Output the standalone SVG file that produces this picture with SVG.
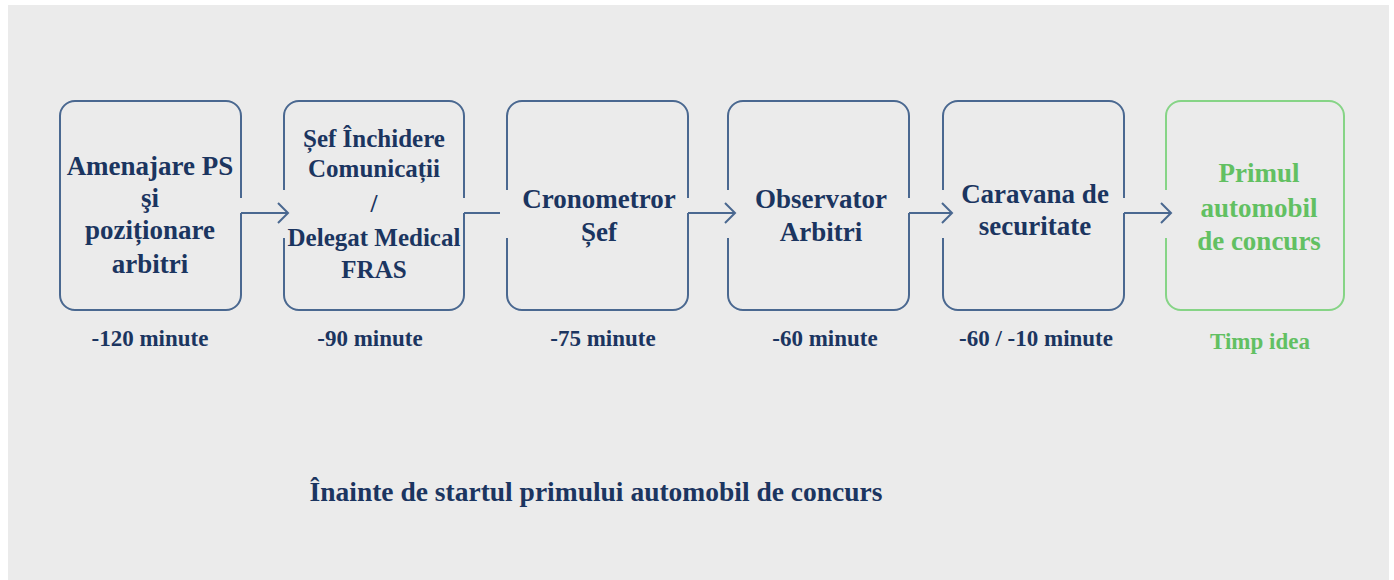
<svg xmlns="http://www.w3.org/2000/svg" width="1394" height="580" viewBox="0 0 1394 580">
<style>
.box{fill:none;stroke:#4a6890;stroke-width:2}
.gbox{fill:none;stroke:#86d486;stroke-width:2}
.t{font-family:'Liberation Serif','DejaVu Serif',serif;font-weight:700;fill:#1b3560;text-anchor:middle}
.g{fill:#62c062}
.big{font-size:27px}
.mid{font-size:25px}
.lab{font-size:23px}
.con{fill:none;stroke:#4a6890;stroke-width:2}
</style>
<defs>
<marker id="chev" markerUnits="userSpaceOnUse" viewBox="0 0 13 23" markerWidth="13" markerHeight="23" refX="11.5" refY="11.5" orient="auto">
<path d="M1.5,1.5 L11.5,11.5 L1.5,21.5" fill="none" stroke="#4a6890" stroke-width="2"/>
</marker>
</defs>
<rect x="8" y="5" width="1381" height="575" fill="#ebebeb"/>

<g id="node1">
<path class="box" d="M241 213 V295 A15 15 0 0 1 226 310 H75 A15 15 0 0 1 60 295 V116 A15 15 0 0 1 75 101 H226 A15 15 0 0 1 241 116 V198"/>
<text class="t big" x="150" y="175">Amenajare PS</text>
<text class="t big" x="150" y="207">şi</text>
<text class="t big" x="150" y="239">poziționare</text>
<text class="t big" x="150" y="273">arbitri</text>
<text class="t lab" x="150" y="346">-120 minute</text>
</g>

<g id="node2">
<path class="box" d="M284 190 V116 A15 15 0 0 1 299 101 H449 A15 15 0 0 1 464 116 V198 M464 213 V295 A15 15 0 0 1 449 310 H299 A15 15 0 0 1 284 295 V238"/>
<text class="t mid" x="374" y="147">Șef Închidere</text>
<text class="t mid" x="374" y="177">Comunicații</text>
<text class="t mid" x="374" y="212">/</text>
<text class="t mid" x="374" y="246">Delegat Medical</text>
<text class="t mid" x="374" y="278">FRAS</text>
<text class="t lab" x="370" y="346">-90 minute</text>
</g>

<g id="node3">
<path class="box" d="M507 190 V116 A15 15 0 0 1 522 101 H673 A15 15 0 0 1 688 116 V198 M688 213 V295 A15 15 0 0 1 673 310 H522 A15 15 0 0 1 507 295 V238"/>
<text class="t big" x="599" y="208">Cronometror</text>
<text class="t big" x="599" y="241">Șef</text>
<text class="t lab" x="603" y="346">-75 minute</text>
</g>

<g id="node4">
<path class="box" d="M728 190 V116 A15 15 0 0 1 743 101 H894 A15 15 0 0 1 909 116 V198 M909 213 V295 A15 15 0 0 1 894 310 H743 A15 15 0 0 1 728 295 V238"/>
<text class="t big" x="821" y="208">Observator</text>
<text class="t big" x="821" y="241">Arbitri</text>
<text class="t lab" x="825" y="346">-60 minute</text>
</g>

<g id="node5">
<path class="box" d="M943 190 V116 A15 15 0 0 1 958 101 H1109 A15 15 0 0 1 1124 116 V198 M1124 213 V295 A15 15 0 0 1 1109 310 H958 A15 15 0 0 1 943 295 V238"/>
<text class="t big" x="1035" y="203">Caravana de</text>
<text class="t big" x="1035" y="235">securitate</text>
<text class="t lab" x="1036" y="346">-60 / -10 minute</text>
</g>

<g id="node6">
<path class="gbox" d="M1166 190 V116 A15 15 0 0 1 1181 101 H1329 A15 15 0 0 1 1344 116 V295 A15 15 0 0 1 1329 310 H1181 A15 15 0 0 1 1166 295 V238"/>
<text class="t big g" x="1259" y="182">Primul</text>
<text class="t big g" x="1259" y="217">automobil</text>
<text class="t big g" x="1259" y="250">de concurs</text>
<text class="t lab g" x="1260" y="349">Timp idea</text>
</g>

<g id="connectors">
<path class="con" d="M241 213 H288" marker-end="url(#chev)"/>
<path class="con" d="M464 213 H500"/>
<path class="con" d="M688 213 H735" marker-end="url(#chev)"/>
<path class="con" d="M909 213 H952" marker-end="url(#chev)"/>
<path class="con" d="M1124 213 H1171" marker-end="url(#chev)"/>
</g>

<text class="t" x="596" y="501" style="font-size:27.5px">Înainte de startul primului automobil de concurs</text>
</svg>
